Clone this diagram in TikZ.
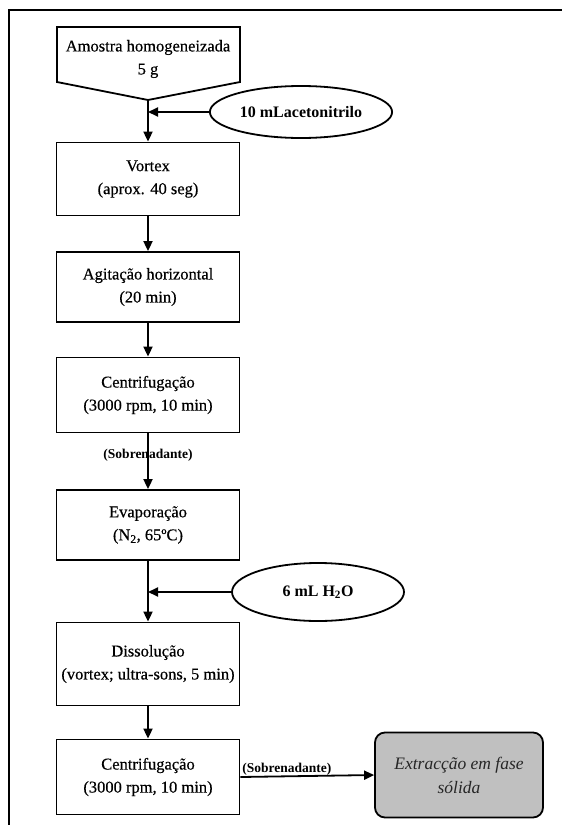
\documentclass[tikz,border=0pt]{standalone}
\usepackage{fontspec}
\setmainfont{Liberation Serif}
\newfontface\stepface{Liberation Serif}[FakeBold=0.4]
\usetikzlibrary{arrows.meta,shapes.geometric}
\definecolor{spegray}{RGB}{192,192,192}
\begin{document}
\begin{tikzpicture}[x=1pt,y=-1pt,
  boxfont/.style={font=\fontsize{16.5}{23}\stepface},
  stepbox/.style={draw,line width=1.8pt,minimum width=183pt,align=center,boxfont},
  inbox/.style={draw,ellipse,line width=1.8pt,align=center,
    font=\fontsize{16}{18}\selectfont\bfseries},
  flow/.style={line width=1.8pt,-{Triangle[length=10pt,width=9pt]}},
  plain/.style={line width=1.8pt},
  lbl/.style={font=\fontsize{13.5}{15}\selectfont\bfseries,inner sep=1pt}]
\useasboundingbox (0,0) rectangle (562,825);
% page frame (top and left edges)
\draw[plain] (9,825) -- (9,10) -- (562,10);

% sample: pentagon pointing down
\draw[plain] (57,27) -- (240,27) -- (240,82) -- (148,100) -- (57,82) -- cycle;
\node[align=center,boxfont] (amostra) at (148,59)
  {Amostra homogeneizada\\5 g};
\coordinate (tip) at (148,100);

% solvent input
\node[inbox,minimum width=176pt,minimum height=52pt] (acn) at (301,112) {10 mLacetonitrilo};
\coordinate (j1) at (148,112);

% steps
\node[stepbox,minimum height=73pt] (vortex) at (148,179) {Vortex\\(aprox. 40 seg)};
\node[stepbox,minimum height=70pt] (agit) at (148,287) {Agitação horizontal\\(20 min)};
\node[stepbox,minimum height=75pt] (centA) at (148,395) {Centrifugação\\(3000 rpm, 10 min)};
\node[stepbox,minimum height=70pt] (evap) at (148,525) {Evaporação\\(N\textsubscript{2}, 65ºC)};
\node[inbox,minimum width=172pt,minimum height=58pt] (water) at (318,592) {6 mL H\textsubscript{2}O};
\coordinate (j2) at (148,592);
\node[stepbox,minimum height=83pt] (diss) at (148,664) {Dissolução\\(vortex; ultra-sons, 5 min)};
\node[stepbox,minimum height=75pt] (centB) at (148,777) {Centrifugação\\(3000 rpm, 10 min)};
\node[draw,line width=1.8pt,rounded corners=10pt,fill=spegray,minimum width=168pt,
  minimum height=85pt,align=center,font=\fontsize{17.5}{24}\selectfont\itshape,
  text=black!85] (spe) at (459,775) {Extracção em fase\\sólida};

% connectors
\draw[flow] (tip) -- (vortex.north);
\draw[flow] (acn.west) -- (j1);
\draw[flow] (vortex.south) -- (agit.north);
\draw[flow] (agit.south) -- (centA.north);
\draw[flow] (centA.south) -- (evap.north);
\node[lbl] (sob1) at (148,455) {(Sobrenadante)};
\draw[flow] (evap.south) -- (diss.north);
\draw[flow] (water.west) -- (j2);
\draw[flow] (diss.south) -- (centB.north);
\draw[flow] (centB.east) -- (spe.west)
  node[lbl,pos=0,anchor=south west] (sob2) {(Sobrenadante)};
\end{tikzpicture}
\end{document}
